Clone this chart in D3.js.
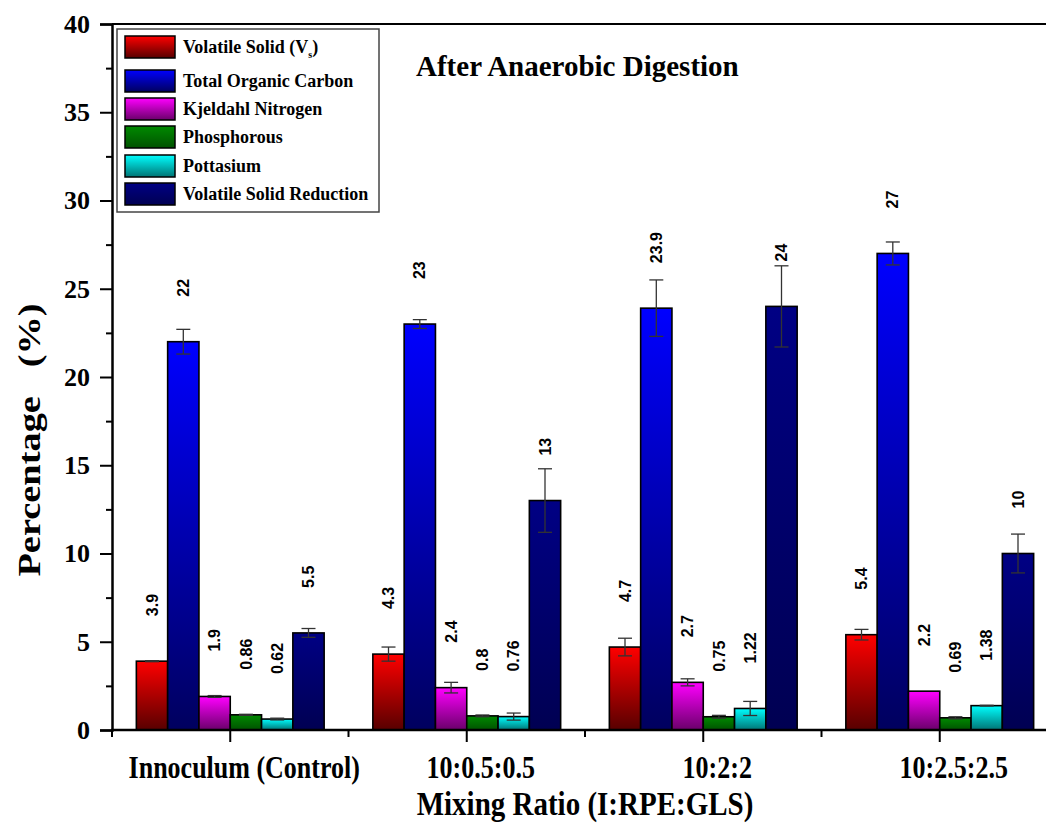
<!DOCTYPE html>
<html>
<head>
<meta charset="utf-8">
<script src="https://cdn.jsdelivr.net/npm/d3@7/dist/d3.min.js"></script>
<style>
  html, body { margin: 0; padding: 0; background: #fff; }
  svg { display: block; }
</style>
</head>
<body>
<div id="chart"></div>
<script>
// Mixing ratios on the x axis
const categories = ["Innoculum (Control)", "10:0.5:0.5", "10:2:2", "10:2.5:2.5"];

// Series names in legend order
const seriesNames = ["Volatile Solid (V)", "Total Organic Carbon", "Kjeldahl Nitrogen",
                     "Phosphorous", "Pottasium", "Volatile Solid Reduction"];

// Measured values (%) per mixing ratio
const volatileSolid      = [3.9, 4.3, 4.7, 5.4];
const totalOrganicCarbon = [22, 23, 23.9, 27];
const kjeldahlNitrogen   = [1.9, 2.4, 2.7, 2.2];
const phosphorous        = [0.86, 0.8, 0.75, 0.69];
const pottasium          = [0.62, 0.76, 1.22, 1.38];
const vsReduction        = [5.5, 13, 24, 10];

// Standard deviations
const volatileSolidErr      = [0.03, 0.4, 0.5, 0.3];
const totalOrganicCarbonErr = [0.7, 0.25, 1.6, 0.65];
const kjeldahlNitrogenErr   = [0.05, 0.3, 0.2, 0];
const phosphorousErr        = [0.03, 0.05, 0.08, 0.06];
const pottasiumErr          = [0.05, 0.2, 0.4, 0.02];
const vsReductionErr        = [0.25, 1.8, 2.3, 1.1];

// Y axis tick values
const yTicks = [0, 5, 10, 15, 20, 25, 30, 35, 40];
const yMinorTicks = [2.5, 7.5, 12.5, 17.5, 22.5, 27.5, 32.5, 37.5];

const seriesValues = [volatileSolid, totalOrganicCarbon, kjeldahlNitrogen, phosphorous, pottasium, vsReduction];
const seriesErrors = [volatileSolidErr, totalOrganicCarbonErr, kjeldahlNitrogenErr, phosphorousErr, pottasiumErr, vsReductionErr];

// Top / bottom gradient colours of each series
const gradTop    = ["#ff0000", "#0000ff", "#ff00ff", "#008a00", "#00ffff", "#000084"];
const gradBottom = ["#580000", "#00005e", "#6a006a", "#005200", "#007474", "#000052"];

const W = 1046, H = 825;
const plot = { left: 112, top: 24, bottom: 730, width: 946 };

const svg = d3.select("#chart").append("svg")
  .attr("width", W).attr("height", H)
  .style("font-family", "'Liberation Serif', 'Times New Roman', serif");

svg.append("rect").attr("width", W).attr("height", H).attr("fill", "#fff");

const defs = svg.append("defs");
seriesNames.forEach((s, i) => {
  const g = defs.append("linearGradient").attr("id", "grad" + i)
    .attr("x1", 0).attr("y1", 0).attr("x2", 0).attr("y2", 1);
  g.append("stop").attr("offset", "0%").attr("stop-color", gradTop[i]);
  g.append("stop").attr("offset", "100%").attr("stop-color", gradBottom[i]);
});

const x0 = d3.scaleBand().domain(categories)
  .range([plot.left, plot.left + plot.width]).paddingInner(0).paddingOuter(0);
const x1 = d3.scaleBand().domain(d3.range(seriesNames.length))
  .range([0, x0.bandwidth()]).paddingInner(0).paddingOuter(0.778);
const y = d3.scaleLinear().domain([0, 40]).range([plot.bottom, plot.top]);

// Bars, error bars and value labels
const groups = svg.append("g").selectAll("g").data(categories).join("g")
  .attr("transform", d => `translate(${x0(d)},0)`);

groups.each(function(cat, ci) {
  const g = d3.select(this);
  seriesValues.forEach((vals, si) => {
    const v = vals[ci], e = seriesErrors[si][ci];
    const bx = x1(si), bw = x1.bandwidth(), cx = bx + bw / 2;
    g.append("rect")
      .attr("x", bx).attr("y", y(v))
      .attr("width", bw).attr("height", y(0) - y(v))
      .attr("fill", `url(#grad${si})`)
      .attr("stroke", "#000").attr("stroke-width", 1.6);
    if (e > 0) {
      const eg = g.append("g").attr("stroke", "#333").attr("stroke-width", 1.3);
      eg.append("line").attr("x1", cx).attr("x2", cx).attr("y1", y(v + e)).attr("y2", y(v - e));
      eg.append("line").attr("x1", cx - 7).attr("x2", cx + 7).attr("y1", y(v + e)).attr("y2", y(v + e));
      eg.append("line").attr("x1", cx - 7).attr("x2", cx + 7).attr("y1", y(v - e)).attr("y2", y(v - e));
    }
    g.append("text")
      .attr("transform", `translate(${cx},${y(v) - 45}) rotate(-90)`)
      .attr("dy", "0.35em")
      .attr("text-anchor", "start")
      .style("font-family", "'Liberation Sans', Arial, sans-serif")
      .style("font-weight", "bold").style("font-size", "16px")
      .text(String(v));
  });
});

// Frame: top line
svg.append("line").attr("x1", plot.left).attr("x2", W)
  .attr("y1", plot.top).attr("y2", plot.top)
  .attr("stroke", "#000").attr("stroke-width", 2);

// Y axis
const yAxis = svg.append("g").attr("transform", `translate(${plot.left},0)`)
  .call(d3.axisLeft(y).tickValues(yTicks).tickSize(12).tickPadding(10).tickFormat(d3.format("d")));
yAxis.select(".domain").attr("stroke-width", 2.5);
yAxis.selectAll(".tick line").attr("stroke-width", 2);
yAxis.selectAll(".tick text")
  .style("font-family", "'Liberation Serif', 'Times New Roman', serif")
  .style("font-weight", "bold").style("font-size", "26px").attr("fill", "#000");
svg.append("g").attr("transform", `translate(${plot.left},0)`)
  .call(d3.axisLeft(y).tickValues(yMinorTicks).tickSize(6).tickFormat(""))
  .call(g => g.select(".domain").remove())
  .selectAll(".tick line").attr("stroke-width", 2);

// X axis: major ticks at group centres, minor ticks at group boundaries
const xAxisG = svg.append("g").attr("transform", `translate(0,${plot.bottom})`);
xAxisG.append("line").attr("x1", plot.left - 1).attr("x2", W)
  .attr("y1", 0).attr("y2", 0).attr("stroke", "#000").attr("stroke-width", 2.5);
xAxisG.selectAll("line.major").data(categories).join("line").attr("class", "major")
  .attr("x1", d => x0(d) + x0.bandwidth() / 2).attr("x2", d => x0(d) + x0.bandwidth() / 2)
  .attr("y1", 0).attr("y2", 12).attr("stroke", "#000").attr("stroke-width", 2);
xAxisG.selectAll("line.minor").data(categories).join("line").attr("class", "minor")
  .attr("x1", d => x0(d)).attr("x2", d => x0(d))
  .attr("y1", 0).attr("y2", 7).attr("stroke", "#000").attr("stroke-width", 2);
xAxisG.selectAll("text").data(categories).join("text")
  .attr("transform", d => `translate(${x0(d) + x0.bandwidth() / 2 + 14},48) scale(1,1.25)`)
  .attr("text-anchor", "middle")
  .style("font-weight", "bold").style("font-size", "26px")
  .text(d => d);

// Axis titles
svg.append("text")
  .attr("transform", `translate(${plot.left + plot.width / 2},815) scale(1,1.15)`)
  .attr("text-anchor", "middle")
  .style("font-weight", "bold").style("font-size", "29px")
  .text("Mixing Ratio (I:RPE:GLS)");

svg.append("text")
  .attr("transform", "translate(40,440) rotate(-90) scale(1.2,1)")
  .attr("text-anchor", "middle")
  .style("font-weight", "bold").style("font-size", "32px")
  .style("white-space", "pre")
  .text("Percentage   (%)");

// Chart title
svg.append("text")
  .attr("x", 416).attr("y", 76)
  .style("font-weight", "bold").style("font-size", "29px")
  .text("After Anaerobic Digestion");

// Legend
const legend = svg.append("g");
legend.append("rect").attr("x", 117).attr("y", 29).attr("width", 262).attr("height", 183)
  .attr("fill", "#fff").attr("stroke", "#444").attr("stroke-width", 1.5);
const rowCenters = [47, 81, 109, 137, 166, 194];
seriesNames.forEach((name, i) => {
  legend.append("rect").attr("x", 125).attr("y", rowCenters[i] - 11)
    .attr("width", 50).attr("height", 22)
    .attr("fill", `url(#grad${i})`).attr("stroke", "#000").attr("stroke-width", 1.5);
  const t = legend.append("text").attr("x", 183).attr("y", rowCenters[i] + 6)
    .style("font-weight", "bold").style("font-size", "18px");
  if (i === 0) {
    t.append("tspan").text("Volatile Solid (V");
    t.append("tspan").attr("dy", 5).style("font-size", "10px").text("s");
    t.append("tspan").attr("dy", -5).text(")");
  } else {
    t.text(name);
  }
});
</script>
</body>
</html>
